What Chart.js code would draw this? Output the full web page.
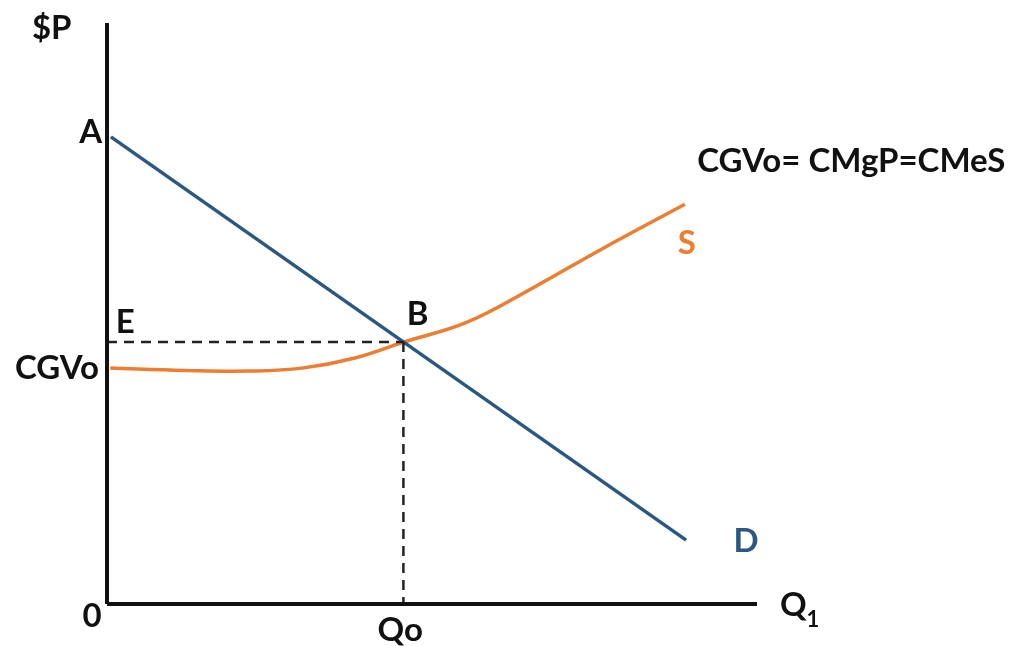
<!DOCTYPE html>
<html>
<head>
<meta charset="utf-8">
<script src="https://cdn.jsdelivr.net/npm/chart.js@4.4.0/dist/chart.umd.min.js"></script>
<style>
  html, body { margin: 0; padding: 0; background: #fff; }
  #wrap { width: 1015px; height: 646px; }
</style>
</head>
<body>
<div id="wrap"><canvas id="chart" width="1015" height="646"></canvas></div>
<script>
  // axis extents (quantity / price units)
  const qMax = 100;
  const pMax = 100;

  // demand D (straight line from A)
  const demandQ = [0.6, 89.1];
  const demandP = [80.4, 11.0];

  // supply S = CGVo = CMgP = CMeS
  const supplyQ = [0.5, 12.0, 22.0, 30.0, 38.0, 45.7, 55.4, 65.5, 75.8, 88.9];
  const supplyP = [40.6, 40.2, 40.1, 40.6, 42.3, 45.1, 48.5, 54.4, 60.9, 68.8];

  // equilibrium B
  const eqQ = 45.6;
  const eqP = 45.1;

  // text labels, anchored in axis units
  const labelText = ['$P', 'A', 'E', 'B', 'CGVo', '0', 'Qo', 'Q', '1', 'D', 'S', 'CGVo= CMgP=CMeS'];
  const labelQ    = [-8.5, -2.5, 2.8, 47.8, -7.7, -2.3, 45.1, 105.6, 108.6, 98.3, 89.2, 90.8];
  const labelP    = [99.0, 81.2, 48.5, 49.9, 40.6, -2.2, -4.5, -0.3, -2.8, 10.8, 62.0, 76.2];

  const BLUE = '#2a5783';
  const ORANGE = '#ed7d31';
  const FONT = 'Lato, "DejaVu Sans", sans-serif';

  const toPts = (xs, ys) => xs.map((x, i) => ({ x, y: ys[i] }));

  const labelsPlugin = {
    id: 'labels',
    afterDatasetsDraw(chart){
      const { ctx, scales } = chart;
      ctx.save();
      ctx.textBaseline = 'middle';
      labelText.forEach((t, i) => {
        const px = scales.x.getPixelForValue(labelQ[i]);
        const py = scales.y.getPixelForValue(labelP[i]);
        let color = '#111';
        if (t === 'D') color = BLUE;
        if (t === 'S') color = ORANGE;
        ctx.fillStyle = color;
        ctx.font = (t === '1' ? 'bold 22px ' : 'bold 33px ') + FONT;
        ctx.textAlign = t.length > 6 ? 'left' : 'center';
        ctx.fillText(t, px, py);
      });
      ctx.restore();
    }
  };

  const line = (data, color, width, dash) => ({
    data, borderColor: color, borderWidth: width, borderDash: dash || [],
    showLine: true, pointRadius: 0, fill: false, clip: false, tension: 0
  });

  new Chart(document.getElementById('chart').getContext('2d'), {
    type: 'scatter',
    data: {
      datasets: [
        line(toPts([0, 0], [0, pMax]), '#111', 4),
        line(toPts([0, qMax], [0, 0]), '#111', 4),
        line(toPts([0, eqQ], [eqP, eqP]), '#222', 2.5, [10, 7]),
        line(toPts([eqQ, eqQ], [eqP, 0]), '#222', 2.5, [10, 7]),
        line(toPts(demandQ, demandP), BLUE, 3.5),
        Object.assign(line(toPts(supplyQ, supplyP), ORANGE, 3.5), { tension: 0.4 })
      ]
    },
    options: {
      responsive: false,
      animation: false,
      layout: { padding: { left: 107, right: 258, top: 23, bottom: 42 } },
      plugins: { legend: { display: false }, tooltip: { enabled: false } },
      scales: {
        x: { type: 'linear', min: 0, max: qMax, display: false },
        y: { type: 'linear', min: 0, max: pMax, display: false }
      }
    },
    plugins: [labelsPlugin]
  });
</script>
</body>
</html>
